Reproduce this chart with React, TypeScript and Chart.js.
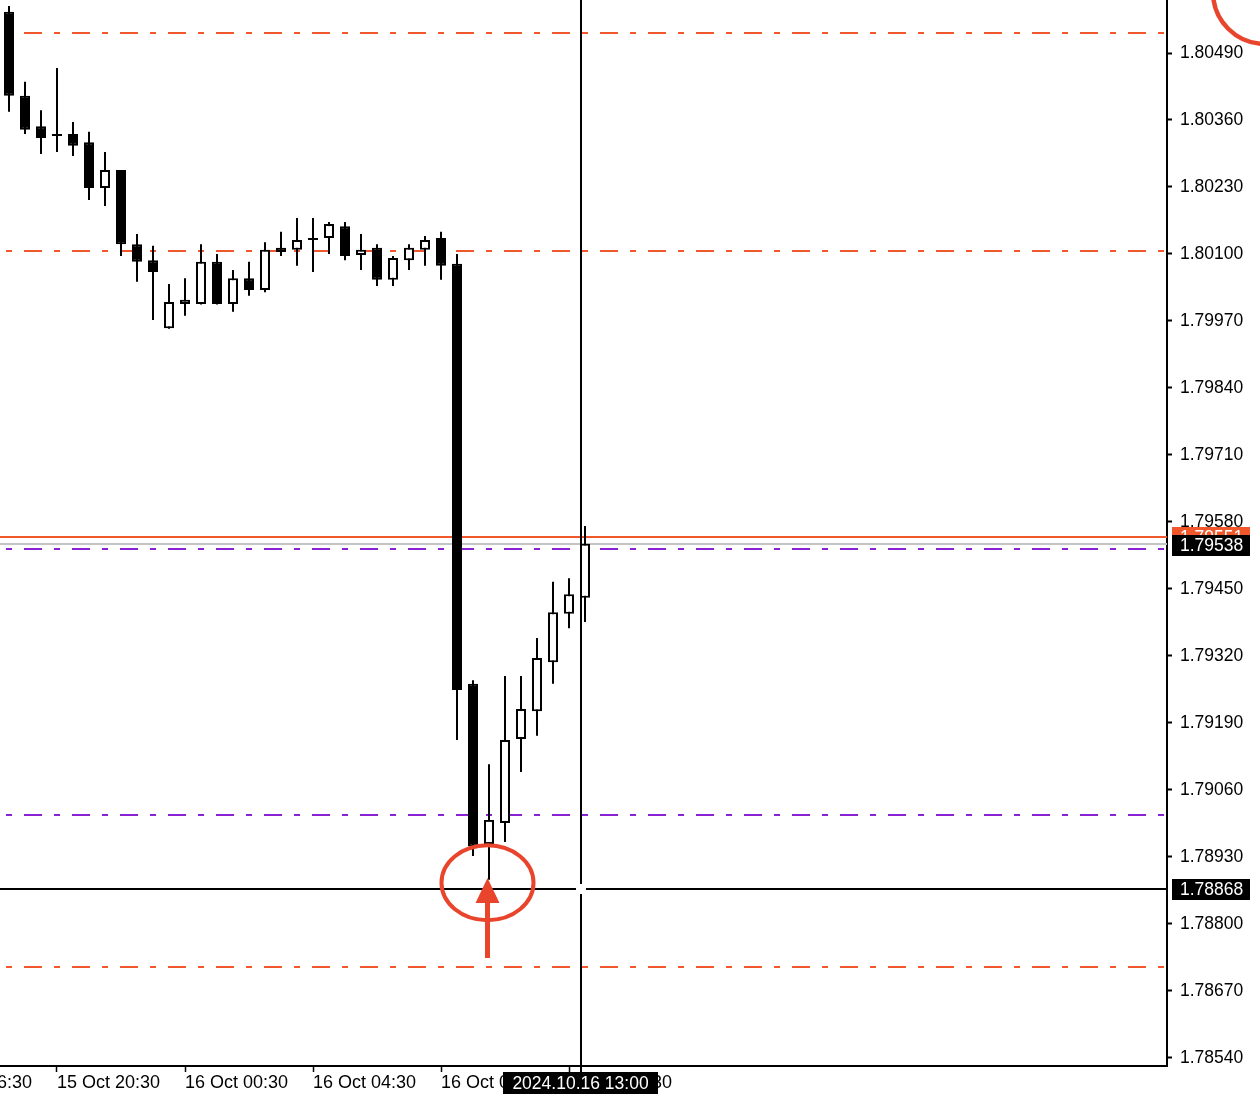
import React, { useEffect, useRef } from 'react';
import { Chart, registerables } from 'chart.js';

Chart.register(...registerables);

// ---- data (M30 candles, slot index 0 = 15 Oct 19:00) ----
const opens = [1.80570, 1.80407, 1.80348, 1.80333, 1.80333, 1.80317, 1.80228, 1.80263, 1.80119, 1.80088,
  1.79956, 1.80003, 1.80003, 1.80085, 1.80003, 1.80053, 1.80030, 1.80112, 1.80108, 1.80131,
  1.80131, 1.80154, 1.80098, 1.80112, 1.80050, 1.80088, 1.80108, 1.80131, 1.80081, 1.79266,
  1.78955, 1.78996, 1.79159, 1.79213, 1.79308, 1.79402, 1.79433];
const highs = [1.80581, 1.80434, 1.80379, 1.80461, 1.80356, 1.80337, 1.80298, 1.80263, 1.80139, 1.80116,
  1.80042, 1.80053, 1.80119, 1.80100, 1.80069, 1.80085, 1.80123, 1.80143, 1.80170, 1.80170,
  1.80162, 1.80162, 1.80139, 1.80119, 1.80096, 1.80119, 1.80135, 1.80143, 1.80100, 1.79273,
  1.79110, 1.79281, 1.79281, 1.79355, 1.79464, 1.79471, 1.79572];
const lows = [1.80376, 1.80333, 1.80294, 1.80298, 1.80290, 1.80205, 1.80193, 1.80096, 1.80046, 1.79972,
  1.79955, 1.79980, 1.80002, 1.80002, 1.79988, 1.80019, 1.80026, 1.80096, 1.80077, 1.80065,
  1.80100, 1.80088, 1.80069, 1.80038, 1.80038, 1.80069, 1.80077, 1.80050, 1.79157, 1.78932,
  1.78886, 1.78959, 1.79095, 1.79165, 1.79266, 1.79374, 1.79386];
const closes = [1.80407, 1.80341, 1.80325, 1.80329, 1.80310, 1.80228, 1.80263, 1.80119, 1.80085, 1.80065,
  1.80007, 1.80011, 1.80085, 1.80003, 1.80053, 1.80030, 1.80108, 1.80104, 1.80127, 1.80127,
  1.80158, 1.80096, 1.80108, 1.80050, 1.80092, 1.80112, 1.80127, 1.80077, 1.79254, 1.78951,
  1.79002, 1.79157, 1.79217, 1.79316, 1.79405, 1.79440, 1.79538];

const priceTicks = [1.80490, 1.80360, 1.80230, 1.80100, 1.79970, 1.79840, 1.79710, 1.79580,
  1.79450, 1.79320, 1.79190, 1.79060, 1.78930, 1.78800, 1.78670, 1.78540];
const timeTickSlots = [-5, 3, 11, 19, 27, 35];
const timeTickLabels = ['15 Oct 16:30', '15 Oct 20:30', '16 Oct 00:30', '16 Oct 04:30', '16 Oct 08:30', '16 Oct 12:30'];

const orangeDashLevels = [1.80529, 1.80106, 1.78717];
const purpleDashLevels = [1.79528, 1.79012];
const askPrice = 1.79551;
const bidPrice = 1.79538;
const crosshairPrice = 1.78868;
const crosshairSlot = 35.75;
const crosshairTimeLabel = '2024.10.16 13:00';

const markedCandle = 30;
const ellipsePrice = 1.78880;
const arrowTipPrice = 1.78889;
const arrowTailPrice = 1.78734;

const yMin = 1.7852444;
const yMax = 1.8059284;
const xMin = -0.5625;
const xMax = 72.375;

const W = 1260;
const H = 1106;
const FONT = '"Liberation Sans", Arial, sans-serif';
const ORANGE = '#F0572B';
const PURPLE = '#8A22D4';
const RED = '#E8452C';
const GRAY = '#C4C4C4';

export default function App() {
  const ref = useRef<HTMLCanvasElement>(null);

  useEffect(() => {
    const canvas = ref.current!;

    const levelsPlugin = {
      id: 'levels',
      beforeDatasetsDraw(chart: any) {
        const { ctx, chartArea: a, scales } = chart;
        const y = scales.y;
        ctx.save();
        const hline = (v: number, color: string, width: number, dash: number[]) => {
          const py = Math.round(y.getPixelForValue(v));
          ctx.beginPath();
          ctx.setLineDash(dash);
          ctx.lineDashOffset = dash.length ? 24 : 0;
          ctx.strokeStyle = color;
          ctx.lineWidth = width;
          ctx.moveTo(a.left, py);
          ctx.lineTo(a.right, py);
          ctx.stroke();
        };
        orangeDashLevels.forEach(v => hline(v, ORANGE, 2, [18, 12, 6, 12]));
        purpleDashLevels.forEach(v => hline(v, PURPLE, 2, [18, 12, 6, 12]));
        hline(bidPrice, GRAY, 2, []);
        hline(askPrice, ORANGE, 2, []);
        ctx.restore();
      },
    };

    const overlayPlugin = {
      id: 'overlay',
      afterDraw(chart: any) {
        const { ctx, chartArea: a, scales } = chart;
        const x = scales.x;
        const y = scales.y;
        ctx.save();
        ctx.setLineDash([]);

        // crosshair
        const cx = Math.round(x.getPixelForValue(crosshairSlot));
        const cy = Math.round(y.getPixelForValue(crosshairPrice));
        ctx.strokeStyle = '#000';
        ctx.lineWidth = 2;
        ctx.beginPath();
        ctx.moveTo(a.left, cy); ctx.lineTo(cx - 5, cy);
        ctx.moveTo(cx + 5, cy); ctx.lineTo(a.right, cy);
        ctx.moveTo(cx, a.top); ctx.lineTo(cx, cy - 5);
        ctx.moveTo(cx, cy + 5); ctx.lineTo(cx, a.bottom + 6);
        ctx.stroke();

        // axis label boxes
        const box = (bx: number, by: number, bw: number, bh: number, fill: string, text: string, center = false) => {
          ctx.fillStyle = fill;
          ctx.fillRect(bx, by, bw, bh);
          ctx.fillStyle = '#fff';
          ctx.font = `17.5px ${FONT}`;
          ctx.textBaseline = 'middle';
          ctx.textAlign = center ? 'center' : 'left';
          ctx.fillText(text, center ? bx + bw / 2 : bx + 8, by + bh / 2 + 1);
        };
        const ax = a.right + 5;
        const askY = Math.round(y.getPixelForValue(askPrice));
        box(ax, askY - 10, 78, 21, ORANGE, askPrice.toFixed(5));
        const bidY = Math.round(y.getPixelForValue(bidPrice));
        box(ax, bidY - 9, 78, 21, '#000', bidPrice.toFixed(5));
        box(ax, cy - 10, 78, 21, '#000', crosshairPrice.toFixed(5));
        box(cx - 78, a.bottom + 6, 155, 22, '#000', crosshairTimeLabel, true);

        // red annotations
        ctx.strokeStyle = RED;
        ctx.fillStyle = RED;
        const mx = x.getPixelForValue(markedCandle) - 1.5;
        ctx.lineWidth = 4;
        ctx.beginPath();
        ctx.ellipse(mx, y.getPixelForValue(ellipsePrice), 46, 37.5, 0, 0, Math.PI * 2);
        ctx.stroke();
        const tipY = y.getPixelForValue(arrowTipPrice);
        const tailY = y.getPixelForValue(arrowTailPrice);
        ctx.lineWidth = 5;
        ctx.beginPath();
        ctx.moveTo(mx, tailY);
        ctx.lineTo(mx, tipY + 20);
        ctx.stroke();
        ctx.beginPath();
        ctx.moveTo(mx, tipY);
        ctx.lineTo(mx - 12, tipY + 25);
        ctx.lineTo(mx + 12, tipY + 25);
        ctx.closePath();
        ctx.fill();

        ctx.lineWidth = 4.5;
        ctx.beginPath();
        ctx.arc(chart.width + 5, -8, 52, 0, Math.PI * 2);
        ctx.stroke();
        ctx.restore();
      },
    };

    const bodies = opens.map((o, i) => ({ x: i, y: [o, closes[i]] }));
    const wicks = lows.map((l, i) => ({ x: i, y: [l, highs[i]] }));

    const chart = new Chart(canvas, {
      type: 'bar',
      data: {
        datasets: [
          {
            label: 'body',
            data: bodies as any,
            order: 0,
            grouped: false,
            barThickness: 10,
            borderWidth: 2,
            borderColor: '#000',
            borderSkipped: false,
            inflateAmount: 0,
            backgroundColor: (c: any) => (closes[c.dataIndex] >= opens[c.dataIndex] ? '#fff' : '#000'),
          } as any,
          {
            label: 'wick',
            data: wicks as any,
            order: 1,
            grouped: false,
            barThickness: 2,
            borderWidth: 0,
            inflateAmount: 0,
            backgroundColor: '#000',
          } as any,
        ],
      },
      options: {
        responsive: false,
        devicePixelRatio: 1,
        animation: false,
        events: [],
        layout: { padding: 0 },
        plugins: { legend: { display: false }, tooltip: { enabled: false } },
        scales: {
          x: {
            type: 'linear',
            position: 'bottom',
            min: xMin,
            max: xMax,
            offset: false,
            grid: { offset: false, drawOnChartArea: false, drawTicks: true, tickLength: 6, tickColor: '#000', tickWidth: 1.5 },
            border: { display: true, color: '#000', width: 2 },
            ticks: {
              autoSkip: false,
              maxRotation: 0,
              minRotation: 0,
              align: 'start',
              padding: 0,
              color: '#000',
              font: { family: FONT, size: 18 },
              callback: (_v: any, i: number) => timeTickLabels[i],
            },
            afterBuildTicks: (s: any) => { s.ticks = timeTickSlots.map(v => ({ value: v })); },
            afterFit: (s: any) => { s.height = 40; s.paddingLeft = 0; s.paddingRight = 0; },
          } as any,
          y: {
            type: 'linear',
            position: 'right',
            min: yMin,
            max: yMax,
            beginAtZero: false,
            grid: { drawOnChartArea: false, drawTicks: true, tickLength: 5, tickColor: '#000', tickWidth: 2 },
            border: { display: true, color: '#000', width: 2 },
            ticks: {
              padding: 8,
              color: '#000',
              font: { family: FONT, size: 17.5 },
              callback: (v: any) => Number(v).toFixed(5),
            },
            afterBuildTicks: (s: any) => { s.ticks = priceTicks.map(v => ({ value: v })); },
            afterFit: (s: any) => { s.width = W - 1167; s.paddingTop = 0; s.paddingBottom = 0; },
          } as any,
        },
      },
      plugins: [levelsPlugin, overlayPlugin],
    });

    return () => chart.destroy();
  }, []);

  return (
    <div style={{ position: 'absolute', left: 0, top: 0, width: W, height: H, background: '#fff' }}>
      <canvas ref={ref} width={W} height={H} style={{ display: 'block', width: W, height: H }} />
    </div>
  );
}
